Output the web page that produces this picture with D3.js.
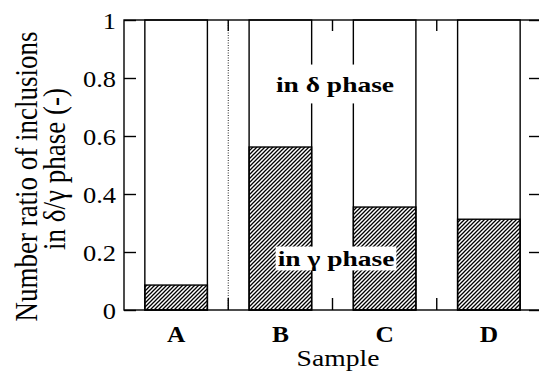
<!DOCTYPE html>
<html>
<head>
<meta charset="utf-8">
<script src="https://cdn.jsdelivr.net/npm/d3@7"></script>
<style>
  html, body { margin: 0; padding: 0; background: #fff; }
  svg { display: block; }
</style>
</head>
<body>
<svg id="chart" width="539" height="376"></svg>
<script>
// Samples and fraction of inclusions found in the gamma phase (rest are in delta)
const samples = ["A", "B", "C", "D"];
const gammaRatio = [0.086, 0.562, 0.355, 0.313];
const totalRatio = [1, 1, 1, 1];
const yTicks = [0, 0.2, 0.4, 0.6, 0.8, 1];
const yTickLabels = ["0", "0.2", "0.4", "0.6", "0.8", "1"];

const svg = d3.select("#chart");
const font = "'Liberation Serif', 'Times New Roman', serif";
const margin = { left: 124, right: -2, top: 20, bottom: 66 };
const W = 539, H = 376;
const stretch = 1.15; // glyphs are set slightly wide

const x = d3.scaleBand()
  .domain(samples)
  .range([margin.left, W - margin.right])
  .paddingInner(0.4)
  .paddingOuter(0.2);
const y = d3.scaleLinear().domain([0, 1]).range([H - margin.bottom, margin.top]);

// hatching for the gamma part
const defs = svg.append("defs");
defs.append("pattern")
  .attr("id", "hatch")
  .attr("patternUnits", "userSpaceOnUse")
  .attr("width", 4).attr("height", 4)
  .append("path")
  .attr("d", "M-1,1 l2,-2 M0,4 l4,-4 M3,5 l2,-2")
  .attr("stroke", "#000")
  .attr("stroke-width", 1.3);

const x0 = margin.left, x1 = W - margin.right;
const yTop = y(1), yBot = y(0);

// separators between samples (ticks on top and bottom frame)
const seps = samples.slice(1).map(s => x(s) - x.step() * x.paddingInner() / 2);

// dotted separator line between A and B
svg.append("line")
  .attr("x1", seps[0]).attr("x2", seps[0])
  .attr("y1", yTop).attr("y2", yBot)
  .attr("stroke", "#222").attr("stroke-width", 1)
  .attr("stroke-dasharray", "1,1.5");

// bars: full-height outline (delta part, white) and hatched gamma part
const bars = svg.append("g");
bars.selectAll("rect.total")
  .data(samples)
  .join("rect")
  .attr("class", "total")
  .attr("x", d => x(d))
  .attr("width", x.bandwidth())
  .attr("y", (d, i) => y(totalRatio[i]))
  .attr("height", (d, i) => y(0) - y(totalRatio[i]))
  .attr("fill", "#fff")
  .attr("stroke", "#000")
  .attr("stroke-width", 1.4);

bars.selectAll("rect.gamma")
  .data(samples)
  .join("rect")
  .attr("class", "gamma")
  .attr("x", d => x(d))
  .attr("width", x.bandwidth())
  .attr("y", (d, i) => y(gammaRatio[i]))
  .attr("height", (d, i) => y(0) - y(gammaRatio[i]))
  .attr("fill", "url(#hatch)")
  .attr("stroke", "#000")
  .attr("stroke-width", 1.4);

// frame
svg.append("rect")
  .attr("x", x0).attr("y", yTop)
  .attr("width", x1 - x0).attr("height", yBot - yTop)
  .attr("fill", "none").attr("stroke", "#000").attr("stroke-width", 1.4);

// separator ticks on top and bottom
const sepTicks = svg.append("g").attr("stroke", "#000").attr("stroke-width", 1.4);
seps.forEach(sx => {
  sepTicks.append("line").attr("x1", sx).attr("x2", sx).attr("y1", yTop).attr("y2", yTop + 11);
  sepTicks.append("line").attr("x1", sx).attr("x2", sx).attr("y1", yBot).attr("y2", yBot - 12);
});

// left axis with inward ticks
const yAxis = d3.axisLeft(y)
  .tickValues(yTicks)
  .tickFormat((d, i) => yTickLabels[i])
  .tickSizeInner(-12)
  .tickSizeOuter(0);
const gy = svg.append("g").attr("transform", `translate(${x0},0)`).call(yAxis);
gy.select(".domain").remove();
gy.selectAll(".tick line").attr("stroke-width", 1.4);
gy.selectAll(".tick text")
  .attr("x", 0).attr("dy", "0.36em")
  .attr("transform", `translate(-8,0) scale(${stretch},1)`)
  .attr("font-family", font).attr("font-size", 23).attr("fill", "#000");

// right axis ticks (inward)
const yAxisR = d3.axisRight(y)
  .tickValues(yTicks)
  .tickFormat("")
  .tickSizeInner(-12)
  .tickSizeOuter(0);
const gyr = svg.append("g").attr("transform", `translate(${x1},0)`).call(yAxisR);
gyr.select(".domain").remove();
gyr.selectAll(".tick line").attr("stroke-width", 1.4);

// sample labels
const xAxis = d3.axisBottom(x).tickSize(0);
const gx = svg.append("g").attr("transform", `translate(0,${yBot})`).call(xAxis);
gx.select(".domain").remove();
gx.selectAll(".tick text")
  .attr("y", 0).attr("dy", 0)
  .attr("transform", `translate(0,32) scale(1.06,1)`)
  .attr("font-family", font).attr("font-size", 24).attr("font-weight", "bold").attr("fill", "#000");

// axis titles
svg.append("text")
  .attr("transform", `translate(338,366) scale(${stretch},1)`)
  .attr("text-anchor", "middle")
  .attr("font-family", font).attr("font-size", 24)
  .text("Sample");

const yTitle = svg.append("g").attr("font-family", font).attr("font-size", 27).attr("text-anchor", "middle");
yTitle.append("text")
  .attr("transform", `translate(37,176.5) rotate(-90) scale(1,${stretch})`)
  .text("Number ratio of inclusions");
yTitle.append("text")
  .attr("transform", `translate(65,169) rotate(-90) scale(1,${stretch})`)
  .text("in δ/γ phase (-)");

// phase annotations on white boxes
function phaseLabel(txt, cx, baseline, sx, padX, padTop, padBottom) {
  const g = svg.append("g");
  const box = g.append("rect").attr("fill", "#fff");
  const inner = g.append("g").attr("transform", `translate(${cx},${baseline}) scale(${sx},1)`);
  inner.append("text")
    .attr("text-anchor", "middle")
    .attr("font-family", font).attr("font-size", 22).attr("font-weight", "bold")
    .text(txt);
  const bb = inner.node().getBBox();
  box.attr("x", cx + bb.x * sx - padX).attr("y", baseline + bb.y - padTop)
    .attr("width", bb.width * sx + 2 * padX).attr("height", bb.height + padTop + padBottom);
}
phaseLabel("in δ phase", 335, 92, 1.25, 3, 8, 7);
phaseLabel("in γ phase", 336, 266, 1.25, 2, 0, 0);
</script>
</body>
</html>
